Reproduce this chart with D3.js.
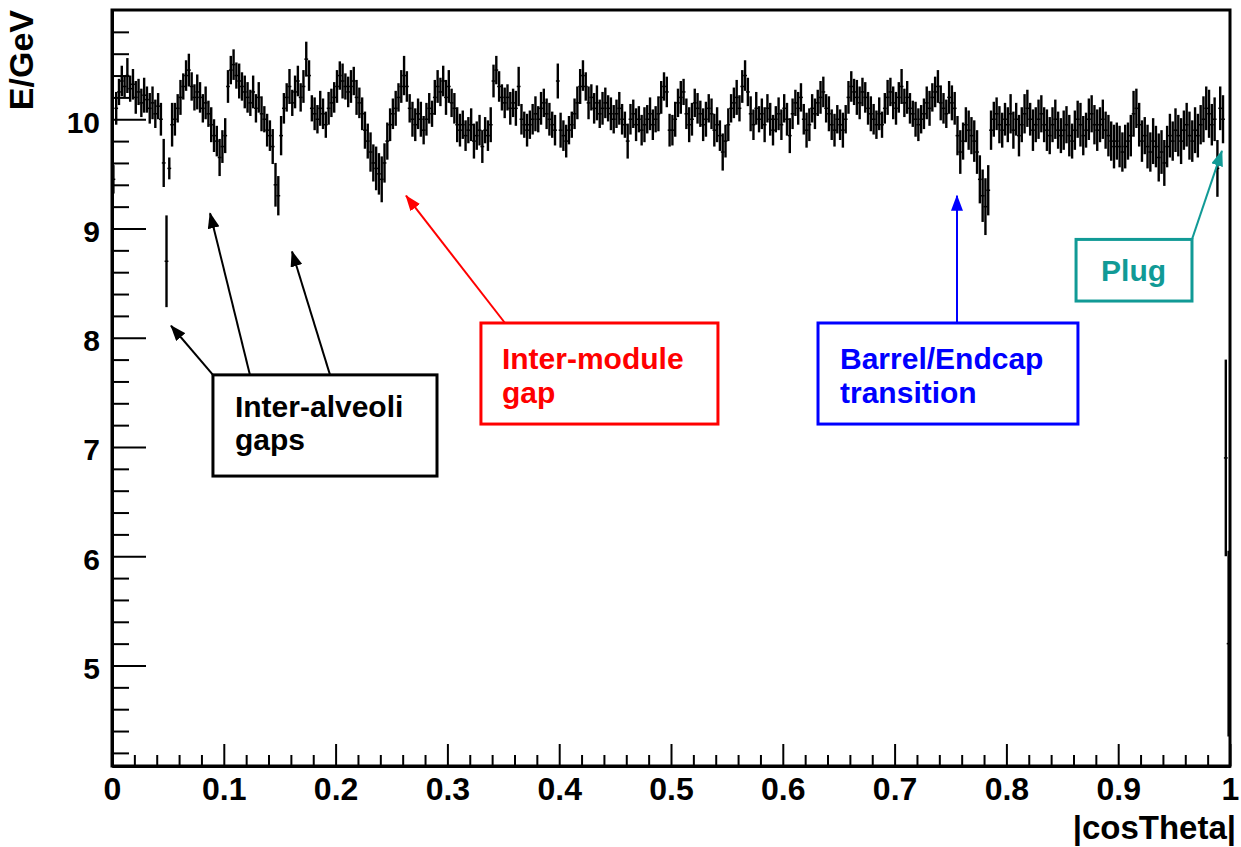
<!DOCTYPE html>
<html lang="en">
<head>
    <meta charset="UTF-8">
    <title>E/GeV vs |cosTheta|</title>
    <style>
        body { margin: 0; background: #fff; }
        svg text { font-family: "Liberation Sans", Arial, sans-serif; font-weight: bold; }
    </style>
</head>
<body>
<svg id="chart" width="1241" height="847"></svg>

<script src="https://cdn.jsdelivr.net/npm/d3@7"></script>
<script>
    // profile: 400 bins of |cosTheta|, width 0.0025
    let binWidth = 0.0025

    // mean E/GeV per bin (20 bins per line = 0.05 in cosTheta)
    let energy = [
        9.45, 10.1, 10.25, 10.35, 10.3, 10.4, 10.28, 10.32, 10.2, 10.25, 10.15, 10.22, 10.18, 10.1, 10.15, 10.05, 10.12, 10.0, 9.6, 8.7,
        9.55, 9.95, 10.0, 10.1, 10.2, 10.3, 10.4, 10.45, 10.3, 10.2, 10.25, 10.2, 10.1, 10.15, 10.05, 9.95, 9.85, 9.8, 9.65, 9.75,
        9.85, 10.3, 10.45, 10.5, 10.4, 10.35, 10.3, 10.25, 10.2, 10.15, 10.25, 10.1, 10.2, 10.05, 10.0, 9.9, 9.85, 9.75, 9.4, 9.3,
        9.85, 10.1, 10.2, 10.3, 10.15, 10.25, 10.35, 10.2, 10.3, 10.55, 10.4, 10.1, 10.05, 10.0, 10.1, 10.05, 9.95, 10.1, 10.15, 10.2,
        10.3, 10.4, 10.35, 10.3, 10.25, 10.3, 10.35, 10.2, 10.15, 10.05, 9.9, 9.8, 9.7, 9.6, 9.55, 9.5, 9.45, 9.6, 9.8, 9.95,
        10.05, 10.1, 10.2, 10.3, 10.4, 10.3, 10.1, 10.0, 9.95, 10.05, 10.0, 9.9, 10.0, 10.1, 10.05, 10.2, 10.3, 10.25, 10.35, 10.2,
        10.3, 10.15, 10.1, 9.95, 9.9, 9.95, 9.85, 9.9, 9.95, 9.8, 9.85, 9.9, 9.75, 9.9, 9.85, 9.95, 10.35, 10.45, 10.3, 10.2,
        10.15, 10.2, 10.1, 10.15, 10.1, 10.3, 10.0, 9.95, 9.9, 9.95, 10.0, 10.05, 10.0, 10.1, 10.15, 10.05, 10.0, 9.95, 9.9, 10.35,
        9.9, 9.85, 9.8, 9.9, 9.95, 10.05, 10.15, 10.3, 10.4, 10.3, 10.15, 10.2, 10.1, 10.15, 10.05, 10.1, 10.15, 10.1, 10.05, 10.0,
        10.05, 10.1, 10.0, 9.95, 9.8, 10.0, 10.05, 9.95, 10.0, 9.9, 9.95, 10.0, 10.05, 9.95, 10.0, 10.05, 10.2, 10.3, 10.25, 9.9,
        9.9, 10.0, 10.15, 10.2, 10.25, 10.05, 9.95, 10.0, 10.15, 10.1, 10.05, 9.95, 10.0, 10.1, 10.05, 9.9, 9.95, 9.85, 9.7, 9.8,
        9.95, 10.1, 10.15, 10.2, 10.1, 10.3, 10.4, 10.25, 10.05, 9.95, 10.1, 10.0, 10.05, 9.95, 10.1, 10.0, 9.9, 10.0, 10.05, 9.95,
        10.1, 10.0, 9.85, 10.05, 10.15, 10.1, 10.2, 10.0, 9.9, 9.95, 10.1, 10.05, 10.15, 10.2, 10.25, 10.1, 10.05, 9.95, 9.9, 10.0,
        9.95, 9.9, 10.0, 10.2, 10.3, 10.25, 10.2, 10.15, 10.25, 10.2, 10.1, 10.05, 10.0, 9.95, 10.05, 9.95, 10.1, 10.2, 10.25, 10.15,
        10.1, 10.2, 10.3, 10.15, 10.2, 10.1, 10.05, 10.0, 9.95, 10.0, 10.05, 10.15, 10.1, 10.2, 10.25, 10.3, 10.15, 10.1, 10.05, 10.2,
        10.15, 10.1, 9.85, 9.7, 9.8, 9.95, 9.9, 9.85, 9.8, 9.7, 9.45, 9.3, 9.2, 9.35, 9.9, 10.0, 10.05, 9.95, 9.9, 10.0,
        9.95, 10.05, 9.9, 10.0, 9.85, 9.95, 10.05, 10.1, 10.0, 9.9, 9.95, 10.0, 10.05, 9.95, 9.9, 9.85, 9.95, 10.0, 9.9, 9.85,
        9.9, 9.95, 9.85, 9.8, 9.9, 10.0, 9.95, 9.85, 9.9, 10.0, 10.05, 9.95, 9.9, 9.95, 10.0, 9.9, 9.85, 9.8, 9.75, 9.8,
        9.75, 9.7, 9.75, 9.8, 9.85, 10.05, 10.1, 9.95, 9.8, 9.85, 9.75, 9.7, 9.8, 9.75, 9.65, 9.7, 9.6, 9.75, 9.85, 9.8,
        9.9, 9.85, 9.8, 9.9, 9.95, 9.85, 9.8, 9.9, 9.85, 9.95, 10.0, 10.1, 10.05, 9.95, 10.0, 9.55, 10.1, 10.0, 6.9, 5.2
    ]

    // error on the mean per bin
    let errors = [
        0.13, 0.15, 0.12, 0.14, 0.1, 0.16, 0.12, 0.14, 0.15, 0.12, 0.13, 0.16, 0.12, 0.14, 0.15, 0.13, 0.12, 0.15, 0.22, 0.42,
        0.1, 0.2, 0.15, 0.13, 0.16, 0.12, 0.14, 0.15, 0.13, 0.12, 0.16, 0.14, 0.13, 0.15, 0.12, 0.16, 0.15, 0.14, 0.17, 0.15,
        0.16, 0.15, 0.13, 0.14, 0.12, 0.16, 0.13, 0.15, 0.14, 0.12, 0.15, 0.13, 0.14, 0.16, 0.12, 0.15, 0.14, 0.16, 0.2, 0.18,
        0.18, 0.14, 0.13, 0.16, 0.12, 0.15, 0.14, 0.13, 0.15, 0.16, 0.14, 0.12, 0.15, 0.13, 0.16, 0.14, 0.12, 0.15, 0.13, 0.14,
        0.15, 0.13, 0.16, 0.12, 0.14, 0.15, 0.13, 0.16, 0.14, 0.15, 0.17, 0.16, 0.18, 0.17, 0.2, 0.19, 0.21, 0.18, 0.17, 0.15,
        0.14, 0.16, 0.13, 0.15, 0.18, 0.14, 0.13, 0.16, 0.15, 0.14, 0.16, 0.13, 0.15, 0.14, 0.12, 0.16, 0.15, 0.13, 0.14, 0.16,
        0.15, 0.13, 0.14, 0.16, 0.15, 0.13, 0.14, 0.12, 0.15, 0.16, 0.13, 0.14, 0.15, 0.12, 0.14, 0.16, 0.15, 0.13, 0.14, 0.12,
        0.14, 0.12, 0.15, 0.13, 0.16, 0.18, 0.14, 0.12, 0.15, 0.13, 0.14, 0.16, 0.12, 0.15, 0.13, 0.14, 0.15, 0.12, 0.14, 0.16,
        0.16, 0.14, 0.15, 0.13, 0.12, 0.14, 0.15, 0.16, 0.14, 0.13, 0.15, 0.12, 0.14, 0.16, 0.13, 0.15, 0.14, 0.12, 0.15, 0.13,
        0.13, 0.15, 0.14, 0.12, 0.16, 0.14, 0.13, 0.15, 0.12, 0.14, 0.16, 0.13, 0.15, 0.14, 0.12, 0.16, 0.15, 0.13, 0.14, 0.15,
        0.14, 0.16, 0.13, 0.15, 0.12, 0.14, 0.16, 0.15, 0.13, 0.14, 0.12, 0.15, 0.16, 0.13, 0.14, 0.15, 0.16, 0.14, 0.17, 0.15,
        0.15, 0.13, 0.14, 0.16, 0.12, 0.15, 0.14, 0.13, 0.16, 0.14, 0.15, 0.12, 0.14, 0.16, 0.13, 0.15, 0.14, 0.12, 0.15, 0.14,
        0.13, 0.15, 0.16, 0.14, 0.12, 0.15, 0.13, 0.14, 0.16, 0.15, 0.13, 0.14, 0.12, 0.15, 0.14, 0.13, 0.16, 0.14, 0.15, 0.13,
        0.14, 0.16, 0.13, 0.15, 0.14, 0.12, 0.16, 0.15, 0.13, 0.14, 0.15, 0.16, 0.14, 0.13, 0.15, 0.12, 0.14, 0.16, 0.13, 0.15,
        0.15, 0.14, 0.16, 0.13, 0.15, 0.14, 0.12, 0.16, 0.15, 0.13, 0.14, 0.15, 0.16, 0.13, 0.14, 0.15, 0.16, 0.14, 0.13, 0.15,
        0.16, 0.15, 0.18, 0.2, 0.17, 0.16, 0.18, 0.17, 0.19, 0.2, 0.22, 0.24, 0.26, 0.23, 0.18, 0.16, 0.15, 0.17, 0.16, 0.15,
        0.16, 0.18, 0.17, 0.15, 0.19, 0.16, 0.18, 0.17, 0.15, 0.19, 0.16, 0.18, 0.17, 0.16, 0.19, 0.17, 0.16, 0.18, 0.17, 0.16,
        0.18, 0.17, 0.19, 0.16, 0.18, 0.17, 0.2, 0.18, 0.16, 0.19, 0.17, 0.18, 0.19, 0.16, 0.18, 0.17, 0.19, 0.18, 0.2, 0.17,
        0.19, 0.18, 0.2, 0.17, 0.19, 0.21, 0.18, 0.2, 0.19, 0.17, 0.2, 0.18, 0.21, 0.19, 0.22, 0.2, 0.21, 0.19, 0.2, 0.18,
        0.2, 0.19, 0.21, 0.18, 0.2, 0.22, 0.19, 0.21, 0.2, 0.18, 0.21, 0.2, 0.22, 0.19, 0.2, 0.26, 0.2, 0.22, 0.9, 0.85
    ]

    let xTicks = [0, 0.1, 0.2, 0.3, 0.4, 0.5, 0.6, 0.7, 0.8, 0.9, 1]
    let xTickLabels = ["0", "0.1", "0.2", "0.3", "0.4", "0.5", "0.6", "0.7", "0.8", "0.9", "1"]
    let yTicks = [5, 6, 7, 8, 9, 10]
    let yTickLabels = ["5", "6", "7", "8", "9", "10"]
    let xTitle = "|cosTheta|"
    let yTitle = "E/GeV"

    // annotations: box corners and arrows (tail -> head) in data units
    let notes = [
        { lines: ["Inter-alveoli", "gaps"], color: "#000000",
          box: [0.0903, 0.2907, 7.66, 6.734], textDx: 22, textDy: [42, 75],
          arrows: [[0.0903, 7.66, 0.0528, 8.11], [0.1234, 7.66, 0.0877, 9.14], [0.195, 7.66, 0.161, 8.79]] },
        { lines: ["Inter-module", "gap"], color: "#ff0000",
          box: [0.330, 0.542, 8.135, 7.21], textDx: 21, textDy: [46, 80],
          arrows: [[0.3515, 8.135, 0.263, 9.30]] },
        { lines: ["Barrel/Endcap", "transition"], color: "#0000ff",
          box: [0.6315, 0.864, 8.135, 7.21], textDx: 22, textDy: [46, 80],
          arrows: [[0.7558, 8.135, 0.7558, 9.30]] },
        { lines: ["Plug"], color: "#119a96",
          box: [0.8623, 0.966, 8.90, 8.336], textDx: 25, textDy: [42],
          arrows: [[0.966, 8.90, 0.9928, 9.71]] }
    ]

    let width = 1241, height = 847
    let margin = { left: 112, right: 11, top: 10, bottom: 81 }
    let plotW = width - margin.left - margin.right
    let plotH = height - margin.top - margin.bottom

    let svg = d3.select("#chart")
    let g = svg.append("g").attr("transform", `translate(${margin.left},${margin.top})`)

    let x = d3.scaleLinear().domain([0, 1]).range([0, plotW])
    let y = d3.scaleLinear().domain([4.08, 11.0]).range([plotH, 0])

    svg.append("defs").append("clipPath").attr("id", "plotClip")
        .append("rect").attr("width", plotW).attr("height", plotH)

    // profile points with error bars
    let bins = energy.map((v, i) => ({ lo: i * binWidth, hi: (i + 1) * binWidth, v: v, e: errors[i] || 0.15 }))
    let data = g.append("g").attr("clip-path", "url(#plotClip)")

    data.selectAll("line.err").data(bins).join("line")
        .attr("class", "err")
        .attr("x1", d => x((d.lo + d.hi) / 2))
        .attr("x2", d => x((d.lo + d.hi) / 2))
        .attr("y1", d => y(d.v - d.e))
        .attr("y2", d => y(d.v + d.e))
        .attr("stroke", "#000")
        .attr("stroke-width", 2.4)

    data.selectAll("line.mean").data(bins).join("line")
        .attr("class", "mean")
        .attr("x1", d => x(d.lo) - 0.5)
        .attr("x2", d => x(d.hi) + 0.5)
        .attr("y1", d => y(d.v))
        .attr("y2", d => y(d.v))
        .attr("stroke", "#000")
        .attr("stroke-width", 1.5)

    // axes, ROOT style: ticks pointing into the frame
    let xMinor = d3.range(0, 51).map(i => +(i * 0.02).toFixed(2)).filter(v => Math.round(v * 50) % 5 != 0)
    let yMinor = d3.range(21, 56).map(i => +(i * 0.2).toFixed(1)).filter(v => Math.abs(v - Math.round(v)) > 0.01)

    let xAxis = d3.axisBottom(x).tickValues(xTicks).tickFormat((d, i) => xTickLabels[i])
        .tickSize(-22).tickSizeOuter(0).tickPadding(11)
    let xAxisMinor = d3.axisBottom(x).tickValues(xMinor).tickFormat("").tickSize(-11).tickSizeOuter(0)
    let yAxis = d3.axisLeft(y).tickValues(yTicks).tickFormat((d, i) => yTickLabels[i])
        .tickSize(-34).tickSizeOuter(0).tickPadding(12)
    let yAxisMinor = d3.axisLeft(y).tickValues(yMinor).tickFormat("").tickSize(-17).tickSizeOuter(0)

    let xg = g.append("g").attr("transform", `translate(0,${plotH})`)
    xg.append("g").call(xAxisMinor)
    xg.append("g").call(xAxis)
    let yg = g.append("g")
    yg.append("g").call(yAxisMinor)
    yg.append("g").call(yAxis)

    g.selectAll(".tick line").attr("stroke", "#000").attr("stroke-width", 2)
    g.selectAll(".domain").attr("stroke", "#000").attr("stroke-width", 3)
    xg.selectAll("text").attr("font-size", 32).attr("fill", "#000")
    yg.selectAll("text").attr("font-size", 30).attr("fill", "#000").attr("dy", "0.43em")

    // frame
    g.append("rect").attr("width", plotW).attr("height", plotH)
        .attr("fill", "none").attr("stroke", "#000").attr("stroke-width", 3)

    // axis titles
    svg.append("text").attr("x", 1236).attr("y", 839).attr("text-anchor", "end")
        .attr("font-size", 33).text(xTitle)
    svg.append("text").attr("transform", "translate(33,10) rotate(-90)").attr("text-anchor", "end")
        .attr("font-size", 34).text(yTitle)

    // annotations
    let defs = svg.select("defs")
    notes.forEach((n, k) => {
        defs.append("marker").attr("id", "head" + k)
            .attr("viewBox", "0 0 16 12").attr("refX", 15).attr("refY", 6)
            .attr("markerWidth", 16).attr("markerHeight", 12)
            .attr("markerUnits", "userSpaceOnUse").attr("orient", "auto")
            .append("path").attr("d", "M0,0 L16,6 L0,12 Z").attr("fill", n.color)

        let ag = g.append("g")
        n.arrows.forEach(a => {
            ag.append("line")
                .attr("x1", x(a[0])).attr("y1", y(a[1]))
                .attr("x2", x(a[2])).attr("y2", y(a[3]))
                .attr("stroke", n.color).attr("stroke-width", 2)
                .attr("marker-end", `url(#head${k})`)
        })

        let bx = x(n.box[0]), by = y(n.box[2])
        ag.append("rect").attr("x", bx).attr("y", by)
            .attr("width", x(n.box[1]) - bx).attr("height", y(n.box[3]) - by)
            .attr("fill", "#fff").attr("stroke", n.color).attr("stroke-width", 3)

        n.lines.forEach((t, j) => {
            ag.append("text").attr("x", bx + n.textDx).attr("y", by + n.textDy[j])
                .attr("font-size", 30).attr("fill", n.color).text(t)
        })
    })
</script>
</body>
</html>
